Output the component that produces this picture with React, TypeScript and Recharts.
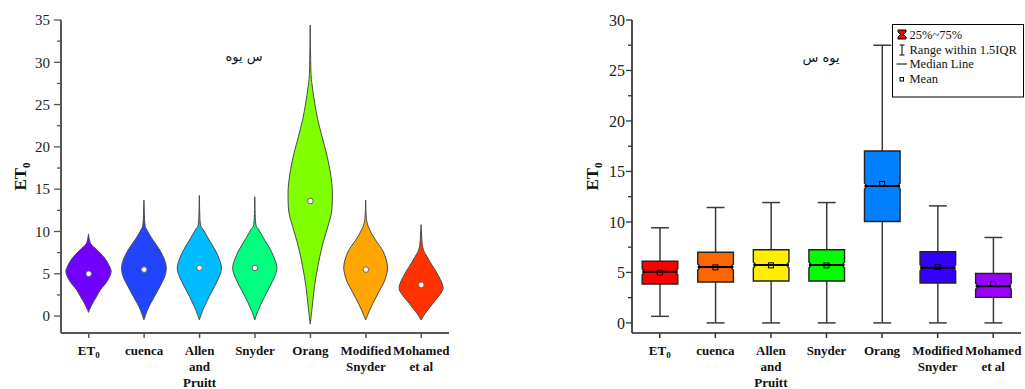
import React from 'react';
import { ComposedChart, Bar, Scatter, XAxis, YAxis } from 'recharts';

// ---------- data ----------
const categories = ['ET0', 'cuenca', 'Allen and Pruitt', 'Snyder', 'Orang', 'Modified Snyder', 'Mohamed et al'];
const categoryLines = [['ET0'], ['cuenca'], ['Allen', 'and', 'Pruitt'], ['Snyder'], ['Orang'], ['Modified', 'Snyder'], ['Mohamed', 'et al']];

// violin profiles: [value, relative half-width (0..1)]
const violinET0 = [[9.7, 0], [8.6, 0.09], [7.8, 0.39], [6.8, 0.74], [5.65, 0.98], [5.05, 1.0], [4.27, 0.87], [3.67, 0.71], [3.1, 0.53], [2.3, 0.36], [1.5, 0.18], [0.9, 0.07], [0.44, 0]];
const violinCuenca = [[13.7, 0], [11, 0.04], [10.2, 0.13], [9.0, 0.4], [7.8, 0.71], [6.6, 0.93], [5.65, 1.0], [4.66, 0.93], [3.47, 0.71], [2.3, 0.47], [1.1, 0.22], [0.1, 0.07], [-0.47, 0]];
const violinAllen = [[14.25, 0], [11, 0.04], [10.2, 0.18], [9.0, 0.44], [7.8, 0.71], [6.6, 0.91], [5.65, 0.99], [4.66, 0.89], [3.47, 0.67], [2.3, 0.44], [1.1, 0.22], [0.1, 0.07], [-0.47, 0]];
const violinSnyder = [[14.1, 0], [11, 0.04], [10.2, 0.18], [9.0, 0.44], [7.8, 0.71], [6.6, 0.91], [5.65, 0.99], [4.66, 0.89], [3.47, 0.67], [2.3, 0.44], [1.1, 0.22], [0.1, 0.07], [-0.47, 0]];
const violinOrang = [[34.4, 0], [29.1, 0.03], [27.2, 0.09], [25.2, 0.2], [23.2, 0.34], [21.2, 0.53], [19.3, 0.72], [17.3, 0.88], [15.3, 0.98], [13.7, 0.99], [12.2, 0.95], [10.6, 0.79], [8.2, 0.53], [5.85, 0.34], [3.5, 0.19], [1.1, 0.09], [-0.95, 0]];
const violinModified = [[13.7, 0], [11.4, 0.04], [10.2, 0.18], [9.0, 0.44], [7.6, 0.79], [5.85, 0.98], [4.27, 0.86], [3.1, 0.64], [1.9, 0.4], [0.7, 0.18], [-0.47, 0]];
const violinMohamed = [[10.8, 0], [8.2, 0.07], [7.0, 0.27], [5.85, 0.53], [4.66, 0.8], [3.47, 0.98], [2.7, 0.89], [1.5, 0.53], [0.3, 0.18], [-0.47, 0]];
const violinProfiles = [violinET0, violinCuenca, violinAllen, violinSnyder, violinOrang, violinModified, violinMohamed];
const violinMeans = [5.0, 5.5, 5.7, 5.7, 13.6, 5.5, 3.7];

// box plot statistics
const boxWhiskerLow = [0.65, 0, 0, 0, 0, 0, 0];
const boxQ1 = [3.85, 4.05, 4.15, 4.15, 10.04, 3.95, 2.53];
const boxMedian = [5.07, 5.53, 5.73, 5.73, 13.57, 5.46, 3.62];
const boxQ3 = [6.1, 7.0, 7.24, 7.24, 17.03, 7.05, 4.9];
const boxWhiskerHigh = [9.42, 11.43, 11.92, 11.92, 27.5, 11.59, 8.46];
const boxMeans = [4.97, 5.5, 5.7, 5.7, 13.76, 5.53, 3.85];

const leftTicks = [0, 2.5, 5, 7.5, 10, 12.5, 15, 17.5, 20, 22.5, 25, 27.5, 30, 32.5, 35];
const rightTicks = [0, 2.5, 5, 7.5, 10, 12.5, 15, 17.5, 20, 22.5, 25, 27.5, 30];
const leftDomain = [-2, 35];
const rightDomain = [-1, 30];

const leftTitle = 'س يوه';
const rightTitle = 'يوه س';
const axisTitle = 'ET';
const legendLabels = ['25%~75%', 'Range within 1.5IQR', 'Median Line', 'Mean'];

const violinColors = ['#7000FF', '#2244FF', '#00BCFF', '#00FF7F', '#80FF00', '#FFA500', '#FF3300'];
const boxColors = ['#FF0000', '#FF6600', '#FFEE00', '#00FF00', '#0080FF', '#3300FF', '#9900FF'];

// ---------- built tables ----------
const violinData = categories.map((name, i) => {
  const prof = violinProfiles[i];
  return {
    name,
    range: [prof[prof.length - 1][0], prof[0][0]],
    profile: prof,
    mean: violinMeans[i],
    color: violinColors[i],
  };
});

const boxData = categories.map((name, i) => ({
  name,
  whisker: [boxWhiskerLow[i], boxWhiskerHigh[i]],
  q1: boxQ1[i],
  q3: boxQ3[i],
  median: boxMedian[i],
  mean: boxMeans[i],
  color: boxColors[i],
}));

const SERIF = '"Liberation Serif", "Times New Roman", serif';

function smoothSegs(pts: number[][]): string {
  let s = '';
  for (let i = 0; i < pts.length - 1; i++) {
    const p0 = pts[Math.max(i - 1, 0)];
    const p1 = pts[i];
    const p2 = pts[i + 1];
    const p3 = pts[Math.min(i + 2, pts.length - 1)];
    const c1x = p1[0] + (p2[0] - p0[0]) / 6;
    const c1y = p1[1] + (p2[1] - p0[1]) / 6;
    const c2x = p2[0] - (p3[0] - p1[0]) / 6;
    const c2y = p2[1] - (p3[1] - p1[1]) / 6;
    s += ` C${c1x},${c1y} ${c2x},${c2y} ${p2[0]},${p2[1]}`;
  }
  return s;
}

const ViolinShape = (props: any) => {
  const { x, y, width, height, payload } = props;
  if (!payload || !isFinite(x) || !isFinite(y)) return null;
  const [lo, hi] = payload.range;
  const top = Math.min(y, y + height);
  const bot = Math.max(y, y + height);
  const toPx = (v: number) => top + ((hi - v) / (hi - lo)) * (bot - top);
  const cx = x + width / 2;
  const hw = width * 0.406;
  const right = payload.profile.map((p: number[]) => [cx + p[1] * hw, toPx(p[0])]);
  const left = payload.profile.map((p: number[]) => [cx - p[1] * hw, toPx(p[0])]).reverse();
  const d = `M${right[0][0]},${right[0][1]}${smoothSegs(right)}${smoothSegs(left)} Z`;
  return <path d={d} fill={payload.color} stroke="#4a4a4a" strokeWidth={1} />;
};

const BoxShape = (props: any) => {
  const { x, y, width, height, payload } = props;
  if (!payload || !isFinite(x) || !isFinite(y)) return null;
  const [lo, hi] = payload.whisker;
  const top = Math.min(y, y + height);
  const bot = Math.max(y, y + height);
  const toPx = (v: number) => top + ((hi - v) / (hi - lo)) * (bot - top);
  const cx = x + width / 2;
  const bw = width * 0.636;
  const cw = width * 0.32;
  const x0 = cx - bw / 2;
  const x1 = cx + bw / 2;
  const yQ1 = toPx(payload.q1);
  const yQ3 = toPx(payload.q3);
  const yMed = toPx(payload.median);
  const yHi = toPx(hi);
  const yLo = toPx(lo);
  const n = 2.5;
  const h = 3;
  const boxPath = `M${x0},${yQ3} L${x1},${yQ3} L${x1},${yMed - h} L${x1 - n},${yMed} L${x1},${yMed + h} L${x1},${yQ1} L${x0},${yQ1} L${x0},${yMed + h} L${x0 + n},${yMed} L${x0},${yMed - h} Z`;
  return (
    <g>
      <line x1={cx} x2={cx} y1={yHi} y2={yQ3} stroke="#3a3a3a" strokeWidth={1.5} />
      <line x1={cx} x2={cx} y1={yQ1} y2={yLo} stroke="#3a3a3a" strokeWidth={1.5} />
      <line x1={cx - cw / 2} x2={cx + cw / 2} y1={yHi} y2={yHi} stroke="#3a3a3a" strokeWidth={1.5} />
      <line x1={cx - cw / 2} x2={cx + cw / 2} y1={yLo} y2={yLo} stroke="#3a3a3a" strokeWidth={1.5} />
      <path d={boxPath} fill={payload.color} stroke="#222" strokeWidth={1.4} />
      <line x1={x0} x2={x1} y1={yMed} y2={yMed} stroke="#000" strokeWidth={2} />
    </g>
  );
};

const ViolinMean = (props: any) => {
  const { cx, cy } = props;
  if (!isFinite(cx) || !isFinite(cy)) return null;
  return <circle cx={cx} cy={cy} r={2.8} fill="#fff" stroke="#666" strokeWidth={1} />;
};

const BoxMean = (props: any) => {
  const { cx, cy } = props;
  if (!isFinite(cx) || !isFinite(cy)) return null;
  return <rect x={cx - 2.5} y={cy - 2.5} width={5} height={5} fill="none" stroke="#000" strokeWidth={1} />;
};

const makeYTick = (fontSize: number, majorLen: number, minorLen: number, gap: number, stroke: string) => (props: any) => {
  const { x, y, payload } = props;
  const v = payload.value;
  const major = Math.abs(v % 5) < 1e-6;
  return (
    <g>
      <line x1={x - (major ? majorLen : minorLen)} x2={x} y1={y} y2={y} stroke={stroke} strokeWidth={1.3} />
      {major ? (
        <text x={x - gap} y={y} dy="0.35em" textAnchor="end" fontFamily={SERIF} fontSize={fontSize} fill="#222">
          {v}
        </text>
      ) : null}
    </g>
  );
};

const makeXTick = (stroke: string) => (props: any) => {
  const { x, y, payload } = props;
  const idx = categories.indexOf(payload.value);
  const lines = categoryLines[idx] || [String(payload.value)];
  return (
    <g>
      <line x1={x} x2={x} y1={y} y2={y + 5} stroke={stroke} strokeWidth={1.5} />
      {lines.map((ln, k) =>
        ln === 'ET0' ? (
          <text key={k} x={x} y={y + 21.5} textAnchor="middle" fontFamily={SERIF} fontWeight="bold" fontSize={13} fill="#111">
            ET<tspan fontSize={9} dy={3}>0</tspan>
          </text>
        ) : (
          <text key={k} x={x} y={y + 21.5 + k * 16} textAnchor="middle" fontFamily={SERIF} fontWeight="bold" fontSize={13} fill="#111">
            {ln}
          </text>
        )
      )}
    </g>
  );
};

const makeYLabel = (offsetX: number) => (p: any) => {
  const vb = p.viewBox || { x: 0, y: 0, width: 0, height: 0 };
  const cx = vb.x + offsetX;
  const cy = vb.y + vb.height / 2;
  return (
    <text transform={`translate(${cx},${cy}) rotate(-90)`} textAnchor="middle" dy="0.35em" fontFamily={SERIF} fontWeight="bold" fontSize={17} fill="#111">
      {axisTitle}
      <tspan fontSize={11} dy={4}>0</tspan>
    </text>
  );
};

const Legend = () => (
  <svg width={133} height={74} style={{ position: 'absolute', left: 892, top: 24 }}>
    <rect x={0.5} y={0.5} width={131} height={72.5} fill="#fff" stroke="#000" strokeWidth={1} />
    <path d="M6,6 L14,6 L14,8 L11.5,10.5 L14,13 L14,15 L6,15 L6,13 L8.5,10.5 L6,8 Z" fill="#FF0000" stroke="#000" strokeWidth={1} />
    <line x1={10} x2={10} y1={21} y2={31} stroke="#000" strokeWidth={1} />
    <line x1={7.5} x2={12.5} y1={21} y2={21} stroke="#000" strokeWidth={1} />
    <line x1={7.5} x2={12.5} y1={31} y2={31} stroke="#000" strokeWidth={1} />
    <line x1={4.5} x2={15} y1={40} y2={40} stroke="#000" strokeWidth={1} />
    <rect x={8} y={53.5} width={3.5} height={3.5} fill="none" stroke="#000" strokeWidth={1} />
    {legendLabels.map((t, i) => (
      <text key={i} x={17.5} y={[11, 26, 40, 55][i]} dy="0.35em" fontFamily={SERIF} fontSize={12.5} fill="#111">
        {t}
      </text>
    ))}
  </svg>
);

const titleStyle = (centerX: number, centerY: number): React.CSSProperties => ({
  position: 'absolute',
  left: centerX - 60,
  top: centerY - 10,
  width: 120,
  height: 20,
  lineHeight: '20px',
  textAlign: 'center',
  fontFamily: '"DejaVu Sans", sans-serif',
  fontSize: 13,
  color: '#111',
});

export default function App() {
  return (
    <div style={{ position: 'absolute', left: 0, top: 0, width: 1025, height: 389, background: '#fff', overflow: 'hidden' }}>
      <div style={{ position: 'absolute', left: 0, top: 0 }}>
        <ComposedChart width={460} height={389} data={violinData} margin={{ top: 20, right: 11, bottom: 6, left: 0 }} barCategoryGap={0}>
          <XAxis
            dataKey="name"
            type="category"
            interval={0}
            height={50}
            tickSize={0}
            tickMargin={0}
            tickLine={false}
            axisLine={{ stroke: '#555', strokeWidth: 2 }}
            tick={makeXTick('#555')}
          />
          <YAxis
            type="number"
            domain={leftDomain}
            ticks={leftTicks}
            interval={0}
            width={61}
            tickSize={0}
            tickMargin={0}
            tickLine={false}
            axisLine={{ stroke: '#555', strokeWidth: 2 }}
            tick={makeYTick(15, 7, 4, 11, '#555')}
            label={{ content: makeYLabel(20) }}
          />
          <Bar dataKey="range" isAnimationActive={false} shape={ViolinShape} />
          <Scatter dataKey="mean" isAnimationActive={false} shape={ViolinMean} />
        </ComposedChart>
      </div>
      <div style={{ position: 'absolute', left: 560, top: 0 }}>
        <ComposedChart width={465} height={389} data={boxData} margin={{ top: 20, right: 4, bottom: 6, left: 0 }} barCategoryGap={0}>
          <XAxis
            dataKey="name"
            type="category"
            interval={0}
            height={50}
            tickSize={0}
            tickMargin={0}
            tickLine={false}
            axisLine={{ stroke: '#222', strokeWidth: 1.6 }}
            tick={makeXTick('#333')}
          />
          <YAxis
            type="number"
            domain={rightDomain}
            ticks={rightTicks}
            interval={0}
            width={72}
            tickSize={0}
            tickMargin={0}
            tickLine={false}
            axisLine={{ stroke: '#222', strokeWidth: 1.6 }}
            tick={makeYTick(16, 6, 4, 7, '#333')}
            label={{ content: makeYLabel(32) }}
          />
          <Bar dataKey="whisker" isAnimationActive={false} shape={BoxShape} />
          <Scatter dataKey="mean" isAnimationActive={false} shape={BoxMean} />
        </ComposedChart>
      </div>
      <div style={titleStyle(244, 57)} dir="rtl">{leftTitle}</div>
      <div style={titleStyle(821, 58)} dir="rtl">{rightTitle}</div>
      <Legend />
    </div>
  );
}
